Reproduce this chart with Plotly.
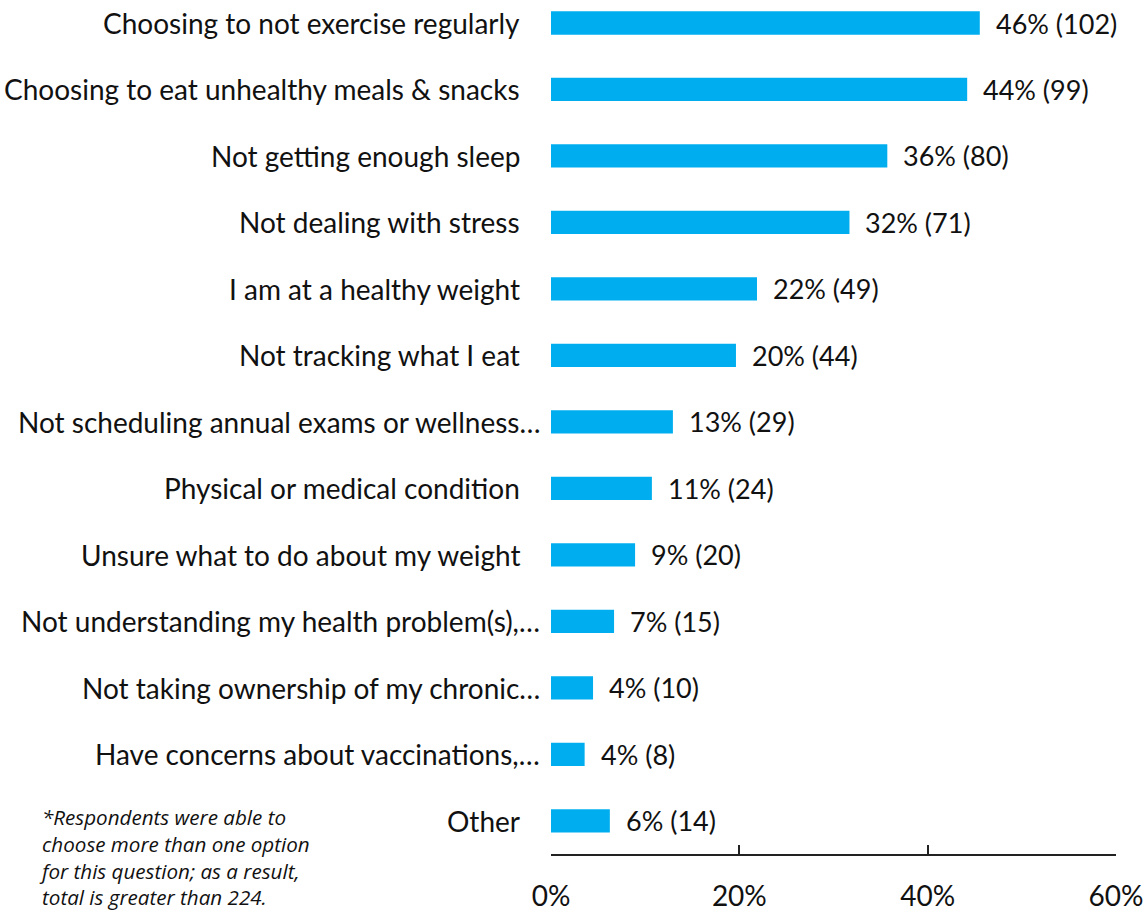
import plotly.graph_objects as go

# Survey responses (respondents could pick more than one option)
categories = [
    "Choosing to not exercise regularly",
    "Choosing to eat unhealthy meals & snacks",
    "Not getting enough sleep",
    "Not dealing with stress",
    "I am at a healthy weight",
    "Not tracking what I eat",
    "Not scheduling annual exams or wellness…",
    "Physical or medical condition",
    "Unsure what to do about my weight",
    "Not understanding my health problem(s),…",
    "Not taking ownership of my chronic…",
    "Have concerns about vaccinations,…",
    "Other",
]
counts = [102, 99, 80, 71, 49, 44, 29, 24, 20, 15, 10, 8, 14]
total_respondents = 224
x_ticks = [0, 20, 40, 60]
x_tick_labels = ["0%", "20%", "40%", "60%"]
footnote_lines = [
    "*Respondents were able to",
    "choose more than one option",
    "for this question; as a result,",
    "total is greater than 224.",
]

pcts = [c / total_respondents * 100 for c in counts]
value_labels = [f"{round(p)}% ({c})" for p, c in zip(pcts, counts)]

# Bottom-up order for the horizontal bar chart
n = len(categories)
ypos = list(range(n - 1, -1, -1))

FONT = "Lato, 'Open Sans', sans-serif"
NOTE_FONT = "'Open Sans', Lato, sans-serif"
BAR = "#00AEEF"
TXT = "#111111"

fig = go.Figure(
    go.Bar(
        x=pcts,
        y=ypos,
        orientation="h",
        marker=dict(color=BAR, line=dict(width=0)),
        width=0.35,
        hoverinfo="skip",
    )
)

annotations = []
for cat, p, y, lab in zip(categories, pcts, ypos, value_labels):
    shift = -9 if cat.endswith("…") else -29
    annotations.append(dict(
        x=0, xref="x", y=y, yref="y", text=cat, showarrow=False,
        xanchor="right", yanchor="middle", xshift=shift,
        font=dict(family=FONT, size=28, color=TXT),
    ))
    annotations.append(dict(
        x=p, xref="x", y=y, yref="y", text=lab, showarrow=False,
        xanchor="left", yanchor="middle", xshift=14,
        font=dict(family=FONT, size=27, color=TXT),
    ))

# Footnote, placed by pixel offsets from the plot's bottom-left corner
plot_w, plot_h = 565, 854
annotations.append(dict(
    x=-514 / plot_w, xref="paper",
    y=-3 / plot_h, yref="paper",
    text="<br>".join(footnote_lines), showarrow=False,
    xanchor="left", yanchor="middle", align="left",
    font=dict(family=NOTE_FONT, size=20.6, color=TXT, style="italic"),
))

fig.update_layout(
    width=1148, height=916,
    margin=dict(l=551, r=32, t=0, b=62),
    paper_bgcolor="white", plot_bgcolor="white",
    showlegend=False,
    annotations=annotations,
    xaxis=dict(
        range=[0, 60], tickvals=x_ticks, ticktext=x_tick_labels,
        showgrid=False, zeroline=False,
        showline=True, linecolor="#222222", linewidth=2,
        ticks="inside", ticklen=9, tickwidth=2, tickcolor="#222222",
        ticklabelstandoff=16,
        tickfont=dict(family=FONT, size=28, color=TXT),
    ),
    yaxis=dict(
        range=[-0.5, n - 1 + 0.346], showticklabels=False,
        showgrid=False, zeroline=False, showline=False, ticks="",
    ),
)

fig.write_html("out.html")
